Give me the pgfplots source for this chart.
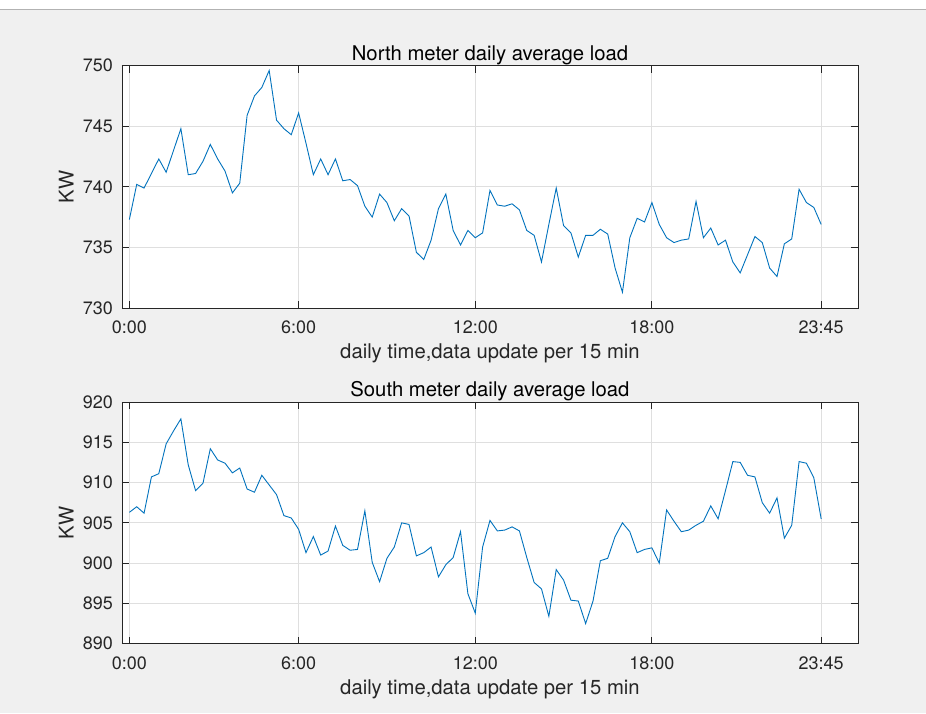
\documentclass[border=0pt]{standalone}
\usepackage{fontspec}
\setmainfont{TeX Gyre Heros}
\usepackage{pgfplots}
\usepackage{pgfplotstable}
\pgfplotsset{compat=1.18}
\definecolor{figbg}{HTML}{F0F0F0}
\definecolor{axcol}{HTML}{262626}
\definecolor{mblue}{HTML}{0072BD}
\definecolor{gridc}{HTML}{DFDFDF}

\pgfplotstableread{
x y
1 737.3
2 740.2
3 739.9
4 741.1
5 742.3
6 741.2
7 743.0
8 744.8
9 741.0
10 741.1
11 742.1
12 743.5
13 742.3
14 741.3
15 739.5
16 740.3
17 745.9
18 747.5
19 748.2
20 749.6
21 745.5
22 744.8
23 744.3
24 746.1
25 743.6
26 741.0
27 742.3
28 741.0
29 742.3
30 740.5
31 740.6
32 740.1
33 738.4
34 737.5
35 739.4
36 738.7
37 737.2
38 738.2
39 737.6
40 734.6
41 734.0
42 735.6
43 738.2
44 739.4
45 736.4
46 735.2
47 736.4
48 735.8
49 736.2
50 739.7
51 738.5
52 738.4
53 738.6
54 738.1
55 736.4
56 736.0
57 733.8
58 736.9
59 739.9
60 736.8
61 736.2
62 734.2
63 736.0
64 736.0
65 736.5
66 736.1
67 733.3
68 731.3
69 735.8
70 737.4
71 737.1
72 738.7
73 736.9
74 735.8
75 735.4
76 735.6
77 735.7
78 738.8
79 735.8
80 736.6
81 735.2
82 735.6
83 733.8
84 732.9
85 734.4
86 735.9
87 735.4
88 733.3
89 732.6
90 735.3
91 735.7
92 739.8
93 738.7
94 738.3
95 736.9
}\north

\pgfplotstableread{
x y
1 906.3
2 907.0
3 906.2
4 910.7
5 911.1
6 914.8
7 916.4
8 917.9
9 912.2
10 909.0
11 909.9
12 914.2
13 912.8
14 912.4
15 911.2
16 911.8
17 909.2
18 908.8
19 910.9
20 909.7
21 908.5
22 905.9
23 905.6
24 904.2
25 901.3
26 903.3
27 901.0
28 901.5
29 904.6
30 902.2
31 901.6
32 901.7
33 906.5
34 900.1
35 897.7
36 900.6
37 902.0
38 905.0
39 904.8
40 900.9
41 901.3
42 902.0
43 898.3
44 899.8
45 900.7
46 903.9
47 896.2
48 893.8
49 902.0
50 905.3
51 904.0
52 904.1
53 904.5
54 904.0
55 900.7
56 897.6
57 896.8
58 893.4
59 899.2
60 897.9
61 895.4
62 895.3
63 892.5
64 895.3
65 900.3
66 900.6
67 903.3
68 905.0
69 903.9
70 901.3
71 901.7
72 901.9
73 900.0
74 906.6
75 905.2
76 903.9
77 904.1
78 904.7
79 905.2
80 907.1
81 905.5
82 909.0
83 912.6
84 912.5
85 910.9
86 910.7
87 907.5
88 906.2
89 908.1
90 903.1
91 904.7
92 912.6
93 912.4
94 910.6
95 905.5
}\south

\pgfplotsset{
  matlab/.style={
    scale only axis,
    width=736.6pt,
    xmin=0, xmax=100,
    xtick={1,24,48,72,95},
    xticklabels={0:00,6:00,12:00,18:00,23:45},
    axis line style={axcol, line width=0.8pt},
    tick style={axcol, line width=0.8pt},
    tick align=inside,
    major tick length=7pt,
    xtick pos=both, ytick pos=both,
    grid=major,
    major grid style={gridc, line width=0.8pt},
    axis background/.style={fill=white},
    /pgf/number format/assume math mode=true,
    ticklabel style={font=\fontsize{18}{20}\selectfont, text=axcol},
    xticklabel style={inner sep=0pt, anchor=north, yshift=-13pt},
    yticklabel style={inner sep=0pt, anchor=east, xshift=-9pt},
    every axis title/.style={at={(rel axis cs:0.5,1)}, anchor=base, yshift=5.6pt,
      font=\fontsize{20.3}{22}\selectfont, text=black},
    every axis x label/.style={at={(rel axis cs:0.5,0)}, anchor=base, yshift=-51pt,
      font=\fontsize{20.3}{22}\selectfont, text=axcol},
    every axis y label/.style={at={(rel axis cs:-0.0657,0.5)}, anchor=base, rotate=90,
      font=\fontsize{20.3}{22}\selectfont, text=axcol},
    xlabel={daily time,data update per 15 min},
    ylabel={KW},
  }
}

\begin{document}
\begin{tikzpicture}[x=1pt,y=1pt]
\fill[figbg] (0,0) rectangle (926,714);
\fill[white] (0,705) rectangle (926,714);
\draw[gray!60, line width=0.8pt] (0,705) -- (926,705);
\useasboundingbox (0,0) rectangle (926,714);

\begin{axis}[matlab,
  at={(121.7pt,405.7pt)}, anchor=south west,
  height=242.6pt,
  ymin=730, ymax=750,
  ytick={730,735,740,745,750},
  title={North meter daily average load},
]
\addplot[mblue, line width=0.9pt] table[x=x,y=y] {\north};
\end{axis}

\begin{axis}[matlab,
  at={(121.7pt,69.7pt)}, anchor=south west,
  height=242pt,
  ymin=890, ymax=920,
  ytick={890,895,900,905,910,915,920},
  title={South meter daily average load},
]
\addplot[mblue, line width=0.9pt] table[x=x,y=y] {\south};
\end{axis}
\end{tikzpicture}
\end{document}
